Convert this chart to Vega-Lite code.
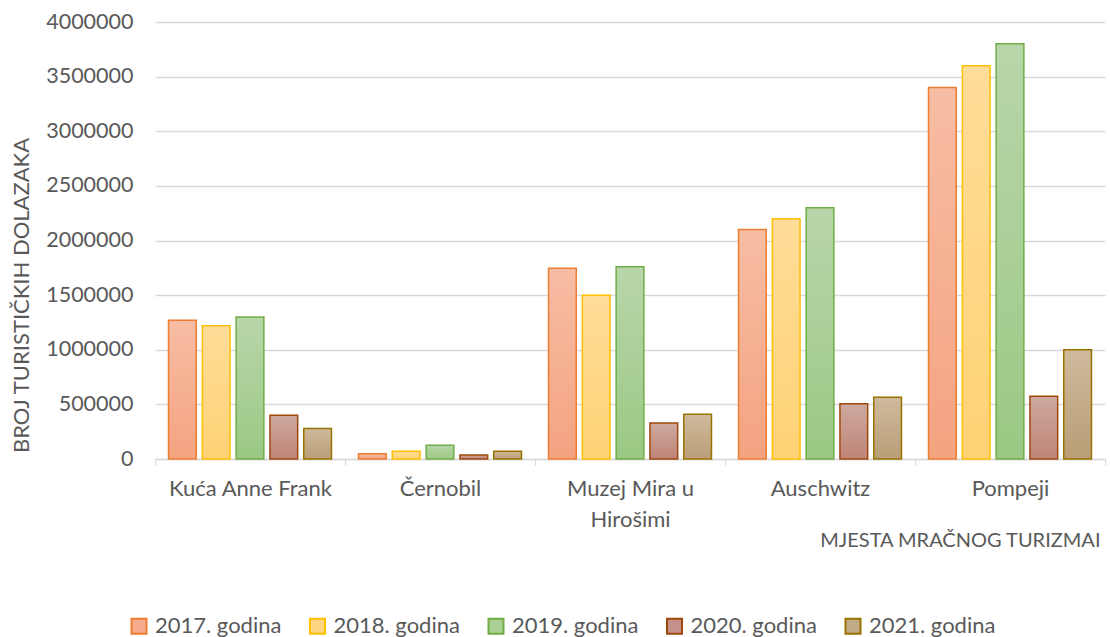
{
  "$schema": "https://vega.github.io/schema/vega-lite/v6.json",
  "width": 950,
  "height": 437,
  "autosize": "none",
  "padding": {"left": 155, "top": 22, "right": 5, "bottom": 178},
  "background": "white",
  "config": {
    "view": {"stroke": null},
    "font": "Lato",
    "axis": {"labelFont": "Lato", "titleFont": "Lato", "labelColor": "#595959", "titleColor": "#595959", "titleFontWeight": "normal"},
    "legend": {"labelFont": "Lato"}
  },
  "data": {
    "values": [
      {"place": "Kuća Anne Frank", "year": "2017. godina", "value": 1270000},
      {"place": "Kuća Anne Frank", "year": "2018. godina", "value": 1220000},
      {"place": "Kuća Anne Frank", "year": "2019. godina", "value": 1300000},
      {"place": "Kuća Anne Frank", "year": "2020. godina", "value": 400000},
      {"place": "Kuća Anne Frank", "year": "2021. godina", "value": 280000},
      {"place": "Černobil", "year": "2017. godina", "value": 47000},
      {"place": "Černobil", "year": "2018. godina", "value": 72000},
      {"place": "Černobil", "year": "2019. godina", "value": 125000},
      {"place": "Černobil", "year": "2020. godina", "value": 37000},
      {"place": "Černobil", "year": "2021. godina", "value": 70000},
      {"place": "Muzej Mira u Hirošimi", "year": "2017. godina", "value": 1745000},
      {"place": "Muzej Mira u Hirošimi", "year": "2018. godina", "value": 1500000},
      {"place": "Muzej Mira u Hirošimi", "year": "2019. godina", "value": 1760000},
      {"place": "Muzej Mira u Hirošimi", "year": "2020. godina", "value": 330000},
      {"place": "Muzej Mira u Hirošimi", "year": "2021. godina", "value": 410000},
      {"place": "Auschwitz", "year": "2017. godina", "value": 2100000},
      {"place": "Auschwitz", "year": "2018. godina", "value": 2200000},
      {"place": "Auschwitz", "year": "2019. godina", "value": 2300000},
      {"place": "Auschwitz", "year": "2020. godina", "value": 505000},
      {"place": "Auschwitz", "year": "2021. godina", "value": 565000},
      {"place": "Pompeji", "year": "2017. godina", "value": 3400000},
      {"place": "Pompeji", "year": "2018. godina", "value": 3600000},
      {"place": "Pompeji", "year": "2019. godina", "value": 3800000},
      {"place": "Pompeji", "year": "2020. godina", "value": 575000},
      {"place": "Pompeji", "year": "2021. godina", "value": 1000000}
    ]
  },
  "mark": {"type": "bar", "strokeWidth": 1.5},
  "encoding": {
    "x": {
      "field": "place",
      "type": "nominal",
      "sort": null,
      "scale": {"paddingInner": 0, "paddingOuter": 0},
      "axis": {
        "title": "MJESTA MRAČNOG TURIZMAI",
        "titleX": 945,
        "titleY": 87,
        "titleAlign": "right",
        "titleBaseline": "alphabetic",
        "titleFontSize": 20,
        "labelAngle": 0,
        "labelFontSize": 22,
        "labelPadding": 13,
        "labelLineHeight": 31,
        "labelExpr": "datum.label == 'Muzej Mira u Hirošimi' ? ['Muzej Mira u', 'Hirošimi'] : datum.label",
        "tickBand": "extent",
        "tickColor": "#d9d9d9",
        "tickSize": 6,
        "domainColor": "#d9d9d9",
        "domainWidth": 1.5,
        "grid": false
      }
    },
    "xOffset": {
      "field": "year",
      "type": "nominal",
      "scale": {"paddingInner": 0.18, "paddingOuter": 0.4}
    },
    "y": {
      "field": "value",
      "type": "quantitative",
      "scale": {"domain": [0, 4000000], "nice": false},
      "axis": {
        "title": "BROJ TURISTIČKIH DOLAZAKA",
        "titleX": -134,
        "titleY": 273,
        "titleAngle": 270,
        "titleAlign": "center",
        "titleBaseline": "middle",
        "titleFontSize": 22,
        "values": [0, 500000, 1000000, 1500000, 2000000, 2500000, 3000000, 3500000, 4000000],
        "format": "d",
        "labelOverlap": false,
        "labelFontSize": 21.5,
        "labelPadding": 22,
        "ticks": false,
        "domain": false,
        "gridColor": "#d9d9d9",
        "gridWidth": 1.5
      }
    },
    "fill": {
      "field": "year",
      "type": "nominal",
      "scale": {"range": ["#f5ab8c", "#fed681", "#a9cf94", "#c4918a", "#c1aa86"]},
      "condition": [
        {"test": "datum.year == '2017. godina'", "value": {"gradient": "linear", "x1": 0, "y1": 0, "x2": 0, "y2": 1, "stops": [{"offset": 0, "color": "#f7bda4"}, {"offset": 1, "color": "#f4a380"}]}},
        {"test": "datum.year == '2018. godina'", "value": {"gradient": "linear", "x1": 0, "y1": 0, "x2": 0, "y2": 1, "stops": [{"offset": 0, "color": "#ffdc98"}, {"offset": 1, "color": "#fed275"}]}},
        {"test": "datum.year == '2019. godina'", "value": {"gradient": "linear", "x1": 0, "y1": 0, "x2": 0, "y2": 1, "stops": [{"offset": 0, "color": "#b8d6aa"}, {"offset": 1, "color": "#9bc884"}]}},
        {"test": "datum.year == '2020. godina'", "value": {"gradient": "linear", "x1": 0, "y1": 0, "x2": 0, "y2": 1, "stops": [{"offset": 0, "color": "#cea99f"}, {"offset": 1, "color": "#bf8477"}]}},
        {"test": "datum.year == '2021. godina'", "value": {"gradient": "linear", "x1": 0, "y1": 0, "x2": 0, "y2": 1, "stops": [{"offset": 0, "color": "#cfba9d"}, {"offset": 1, "color": "#b99e76"}]}}
      ],
      "legend": {
        "title": null,
        "orient": "none",
        "direction": "horizontal",
        "legendX": -27,
        "legendY": 593,
        "symbolType": "square",
        "symbolSize": 225,
        "symbolStrokeWidth": 2,
        "labelFontSize": 22,
        "labelColor": "#595959",
        "labelOffset": 5,
        "columnPadding": 23.5
      }
    },
    "stroke": {
      "field": "year",
      "type": "nominal",
      "scale": {"range": ["#ed7d31", "#ffc000", "#70ad47", "#9e480e", "#997300"]},
      "legend": null
    }
  }
}
